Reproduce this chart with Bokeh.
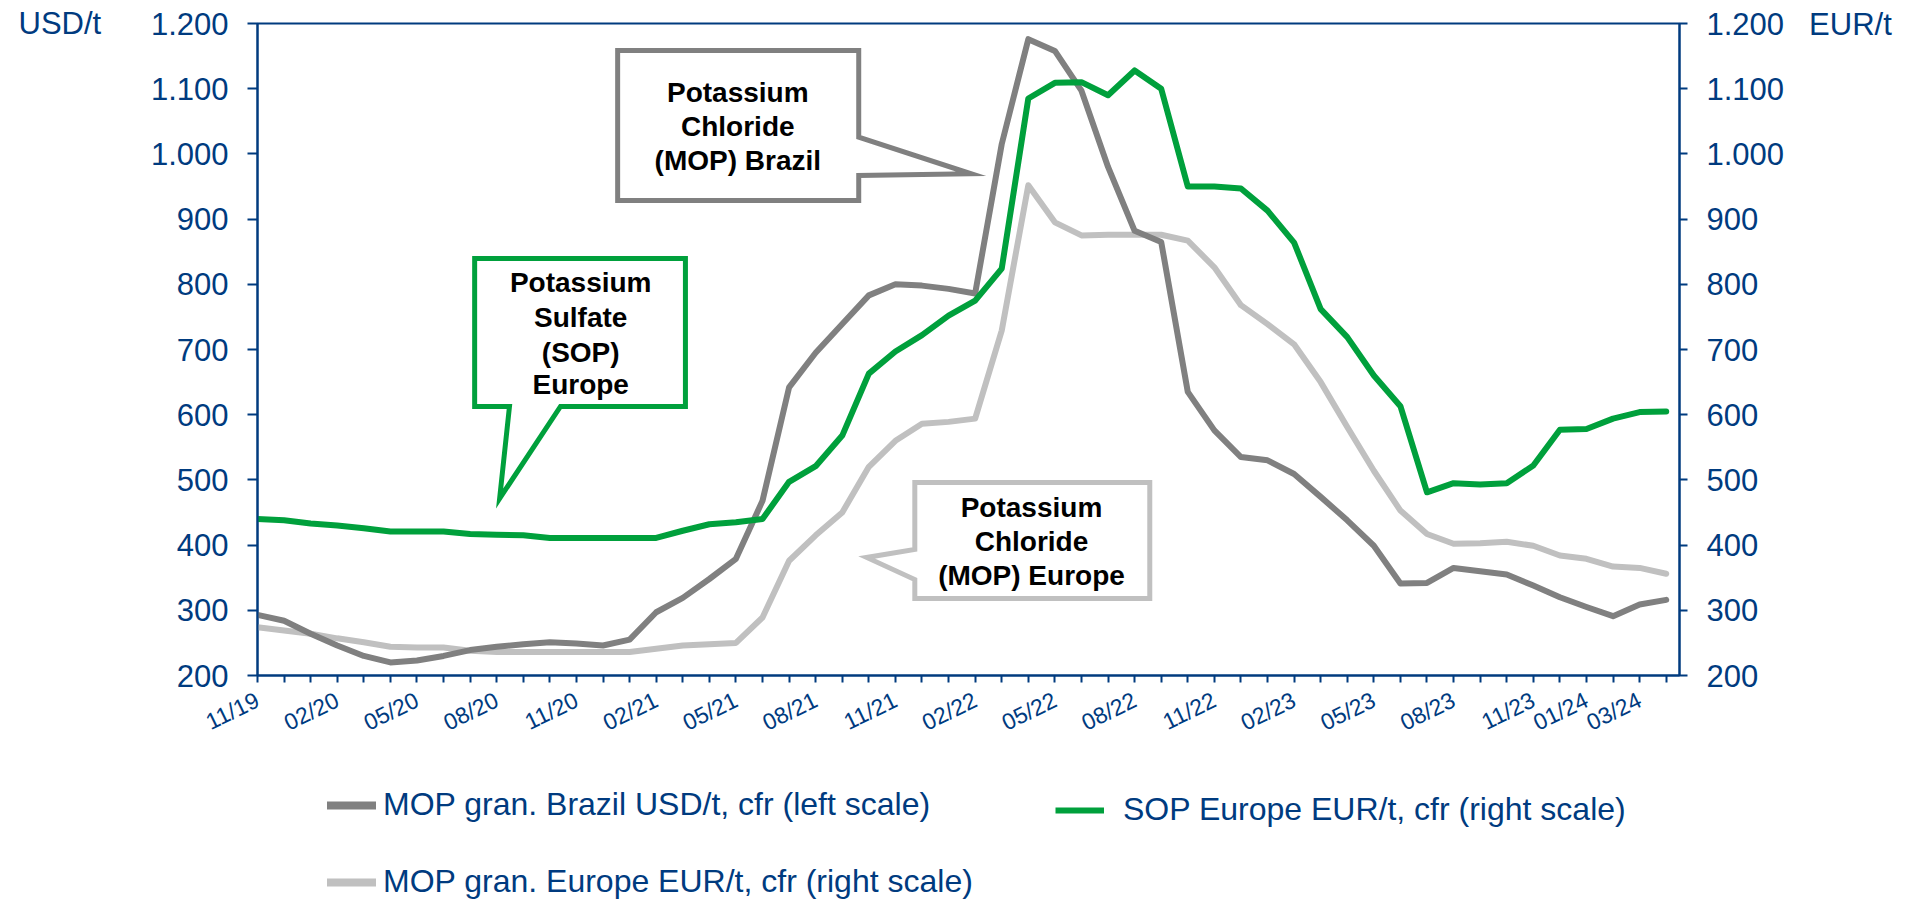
from bokeh.plotting import figure
from bokeh.models import Range1d, LinearAxis, FixedTicker, Legend, LegendItem, Label
from bokeh.layouts import row, column
from bokeh.embed import file_html
from bokeh.resources import INLINE
import math

# ---------------- data ----------------
months = ["11/19", "12/19",
          "01/20", "02/20", "03/20", "04/20", "05/20", "06/20", "07/20", "08/20", "09/20", "10/20", "11/20", "12/20",
          "01/21", "02/21", "03/21", "04/21", "05/21", "06/21", "07/21", "08/21", "09/21", "10/21", "11/21", "12/21",
          "01/22", "02/22", "03/22", "04/22", "05/22", "06/22", "07/22", "08/22", "09/22", "10/22", "11/22", "12/22",
          "01/23", "02/23", "03/23", "04/23", "05/23", "06/23", "07/23", "08/23", "09/23", "10/23", "11/23", "12/23",
          "01/24", "02/24", "03/24", "04/24"]

shown_tick_labels = ["11/19", "02/20", "05/20", "08/20", "11/20", "02/21", "05/21", "08/21", "11/21",
                     "02/22", "05/22", "08/22", "11/22", "02/23", "05/23", "08/23", "11/23", "01/24", "03/24"]

# MOP gran. Brazil USD/t, cfr (left scale)
mop_brazil_usd = [293, 284, 264, 246, 230, 220, 223, 230, 239, 244, 248, 251, 249, 246,
                  255, 297, 319, 348, 379, 468, 642, 695, 739, 783, 800, 798, 793, 786,
                  1015, 1176, 1158, 1097, 980, 882, 865, 635, 576, 535, 530, 509, 474, 438,
                  399, 341, 342, 365, 360, 355, 338, 320, 305, 291, 309, 316]

# MOP gran. Europe EUR/t, cfr (right scale)
mop_europe_eur = [274, 269, 264, 257, 251, 244, 243, 243, 238, 236, 236, 236, 236, 236,
                  236, 241, 246, 248, 250, 289, 376, 415, 450, 520, 560, 586, 589, 594,
                  729, 952, 895, 875, 876, 876, 876, 867, 826, 768, 739, 708, 650, 581,
                  514, 453, 417, 402, 403, 405, 399, 384, 379, 367, 365, 356]

# SOP Europe EUR/t, cfr (right scale)
sop_europe_eur = [440, 438, 433, 430, 426, 421, 421, 421, 417, 416, 415, 411, 411, 411,
                  411, 411, 422, 432, 435, 440, 497, 521, 568, 663, 697, 722, 752, 775,
                  824, 1085, 1109, 1110, 1090, 1128, 1100, 950, 950, 947, 913, 864, 762, 719,
                  660, 613, 481, 495, 493, 495, 522, 577, 578, 594, 604, 605]

y_ticks = [200, 300, 400, 500, 600, 700, 800, 900, 1000, 1100, 1200]

series_names = ["MOP gran. Brazil USD/t, cfr (left scale)",
                "SOP Europe EUR/t, cfr (right scale)",
                "MOP gran. Europe EUR/t, cfr (right scale)"]

# ---------------- styling ----------------
BLUE = "#003B7F"
DARK_GREY = "#808080"
LIGHT_GREY = "#C0C0C0"
GREEN = "#00A03C"
FONT = "Liberation Sans"

ROW_H = 770
LEG_H = 130
LEFT_W = 128
MAIN_W = 1672
RIGHT_W = 111
NAN = float("nan")


def no_frame_align(f):
    try:
        f.frame_align = False
    except AttributeError:
        pass


def blank_fig(w, h):
    f = figure(width=w, height=h, output_backend="svg", toolbar_location=None, title=None,
               x_range=Range1d(0, w), y_range=Range1d(0, h),
               x_axis_type=None, y_axis_type=None, min_border=0)
    f.outline_line_color = None
    f.grid.visible = False
    f.background_fill_color = "white"
    f.border_fill_color = "white"
    no_frame_align(f)
    return f


x = list(range(len(months)))

p = figure(width=MAIN_W, height=ROW_H, output_backend="svg", toolbar_location=None, title=None,
           x_range=Range1d(0, 53.5), y_range=Range1d(200, 1200),
           min_border_left=129, min_border_right=121, min_border_top=23, min_border_bottom=95)
no_frame_align(p)
p.extra_y_ranges = {"eur": Range1d(200, 1200)}
p.grid.visible = False
p.outline_line_color = BLUE
p.outline_line_width = 2
p.background_fill_color = "white"
p.border_fill_color = "white"

r_europe = p.line(x, mop_europe_eur, line_color=LIGHT_GREY, line_width=6,
                  line_join="round", line_cap="round", y_range_name="eur")
r_brazil = p.line(x, mop_brazil_usd, line_color=DARK_GREY, line_width=6,
                  line_join="round", line_cap="round")
r_sop = p.line(x, sop_europe_eur, line_color=GREEN, line_width=6,
               line_join="round", line_cap="round", y_range_name="eur")

# ---------------- axes ----------------
y_overrides = {v: f"{v:,}".replace(",", ".") for v in y_ticks}

right_ax = LinearAxis(y_range_name="eur")
p.add_layout(right_ax, "right")

for ax in [p.xaxis[0], p.yaxis[0], right_ax]:
    ax.axis_line_color = BLUE
    ax.axis_line_width = 2
    ax.major_tick_line_color = BLUE
    ax.major_tick_line_width = 2
    ax.minor_tick_line_color = None
    ax.major_tick_in = 0
    ax.major_label_text_color = BLUE
    ax.major_label_text_font = FONT

for ax, tick_out in [(p.yaxis[0], 10), (right_ax, 8)]:
    ax.ticker = FixedTicker(ticks=y_ticks)
    ax.major_label_overrides = y_overrides
    ax.major_label_text_font_size = "31px"
    ax.major_tick_out = tick_out
    ax.major_label_standoff = 19

xax = p.xaxis[0]
xax.ticker = FixedTicker(ticks=x)
x_overrides = {i: "" for i in x}
for lbl in shown_tick_labels:
    x_overrides[months.index(lbl)] = lbl
xax.major_label_overrides = x_overrides
xax.major_label_orientation = math.radians(26)
xax.major_label_text_font_size = "23px"
xax.major_tick_out = 7
xax.major_label_standoff = 16

# ---------------- callouts ----------------
callouts = [
    dict(color=DARK_GREY,
         xs=[13.55, 22.62, 22.62, 26.85, 22.62, 22.62, 13.55],
         ys=[1158.6, 1158.6, 1025.6, 969.5, 966.9, 928.5, 928.5],
         cx=18.07, lines=["Potassium", "Chloride", "(MOP) Brazil"], ly=[1094, 1042.5, 989.9]),
    dict(color=GREEN,
         xs=[8.17, 16.1, 16.1, 11.4, 9.11, 9.48, 8.17],
         ys=[839.6, 839.6, 612.6, 612.6, 471.5, 612.6, 612.6],
         cx=12.16, lines=["Potassium", "Sulfate", "(SOP)", "Europe"], ly=[802, 749.5, 695.9, 646.3]),
    dict(color=LIGHT_GREY,
         xs=[24.73, 33.57, 33.57, 24.73, 24.73, 22.92, 24.73],
         ys=[496, 496, 318.1, 318.1, 347.2, 381, 393.3],
         cx=29.12, lines=["Potassium", "Chloride", "(MOP) Europe"], ly=[457, 405.5, 353.4]),
]
for c in callouts:
    p.patch(c["xs"], c["ys"], fill_color="white", line_color=c["color"], line_width=5,
            line_join="miter")
    for txt, yy in zip(c["lines"], c["ly"]):
        p.add_layout(Label(x=c["cx"], y=yy, text=txt, text_align="center", text_baseline="middle",
                           text_font=FONT, text_font_size="28px", text_font_style="bold",
                           text_color="black"))

# ---------------- unit labels (side figures) ----------------
left_fig = blank_fig(LEFT_W, ROW_H)
left_fig.add_layout(Label(x=18, y=ROW_H - 23.3, text="USD/t", text_align="left", text_baseline="middle",
                          text_font=FONT, text_font_size="31px", text_color=BLUE))
right_fig = blank_fig(RIGHT_W, ROW_H)
right_fig.add_layout(Label(x=8.6, y=ROW_H - 24.3, text="EUR/t", text_align="left", text_baseline="middle",
                           text_font=FONT, text_font_size="31px", text_color=BLUE))

# ---------------- legend (bottom figure) ----------------
leg_fig = blank_fig(LEFT_W + MAIN_W + RIGHT_W, LEG_H)
lg_brazil = leg_fig.line(x=[NAN], y=[NAN], line_color=DARK_GREY, line_width=8, line_cap="round")
lg_sop = leg_fig.line(x=[NAN], y=[NAN], line_color=GREEN, line_width=6, line_cap="butt")
lg_europe = leg_fig.line(x=[NAN], y=[NAN], line_color=LIGHT_GREY, line_width=8, line_cap="round")

common = dict(border_line_color=None, background_fill_alpha=0, padding=0, margin=0,
              label_text_font=FONT, label_text_font_size="32px", label_text_color=BLUE,
              glyph_height=30, label_height=30)

leg1 = Legend(items=[LegendItem(label=series_names[0], renderers=[lg_brazil]),
                     LegendItem(label=series_names[2], renderers=[lg_europe])],
              location=(327, 0), orientation="vertical", spacing=40,
              glyph_width=49, label_standoff=7, **common)
leg2 = Legend(items=[LegendItem(label=series_names[1], renderers=[lg_sop])],
              location=(1055, 72), orientation="vertical",
              glyph_width=49, label_standoff=19, **common)
leg_fig.add_layout(leg1)
leg_fig.add_layout(leg2)

layout = column(row(left_fig, p, right_fig), leg_fig)

open("out.html", "w").write(file_html(layout, INLINE))
